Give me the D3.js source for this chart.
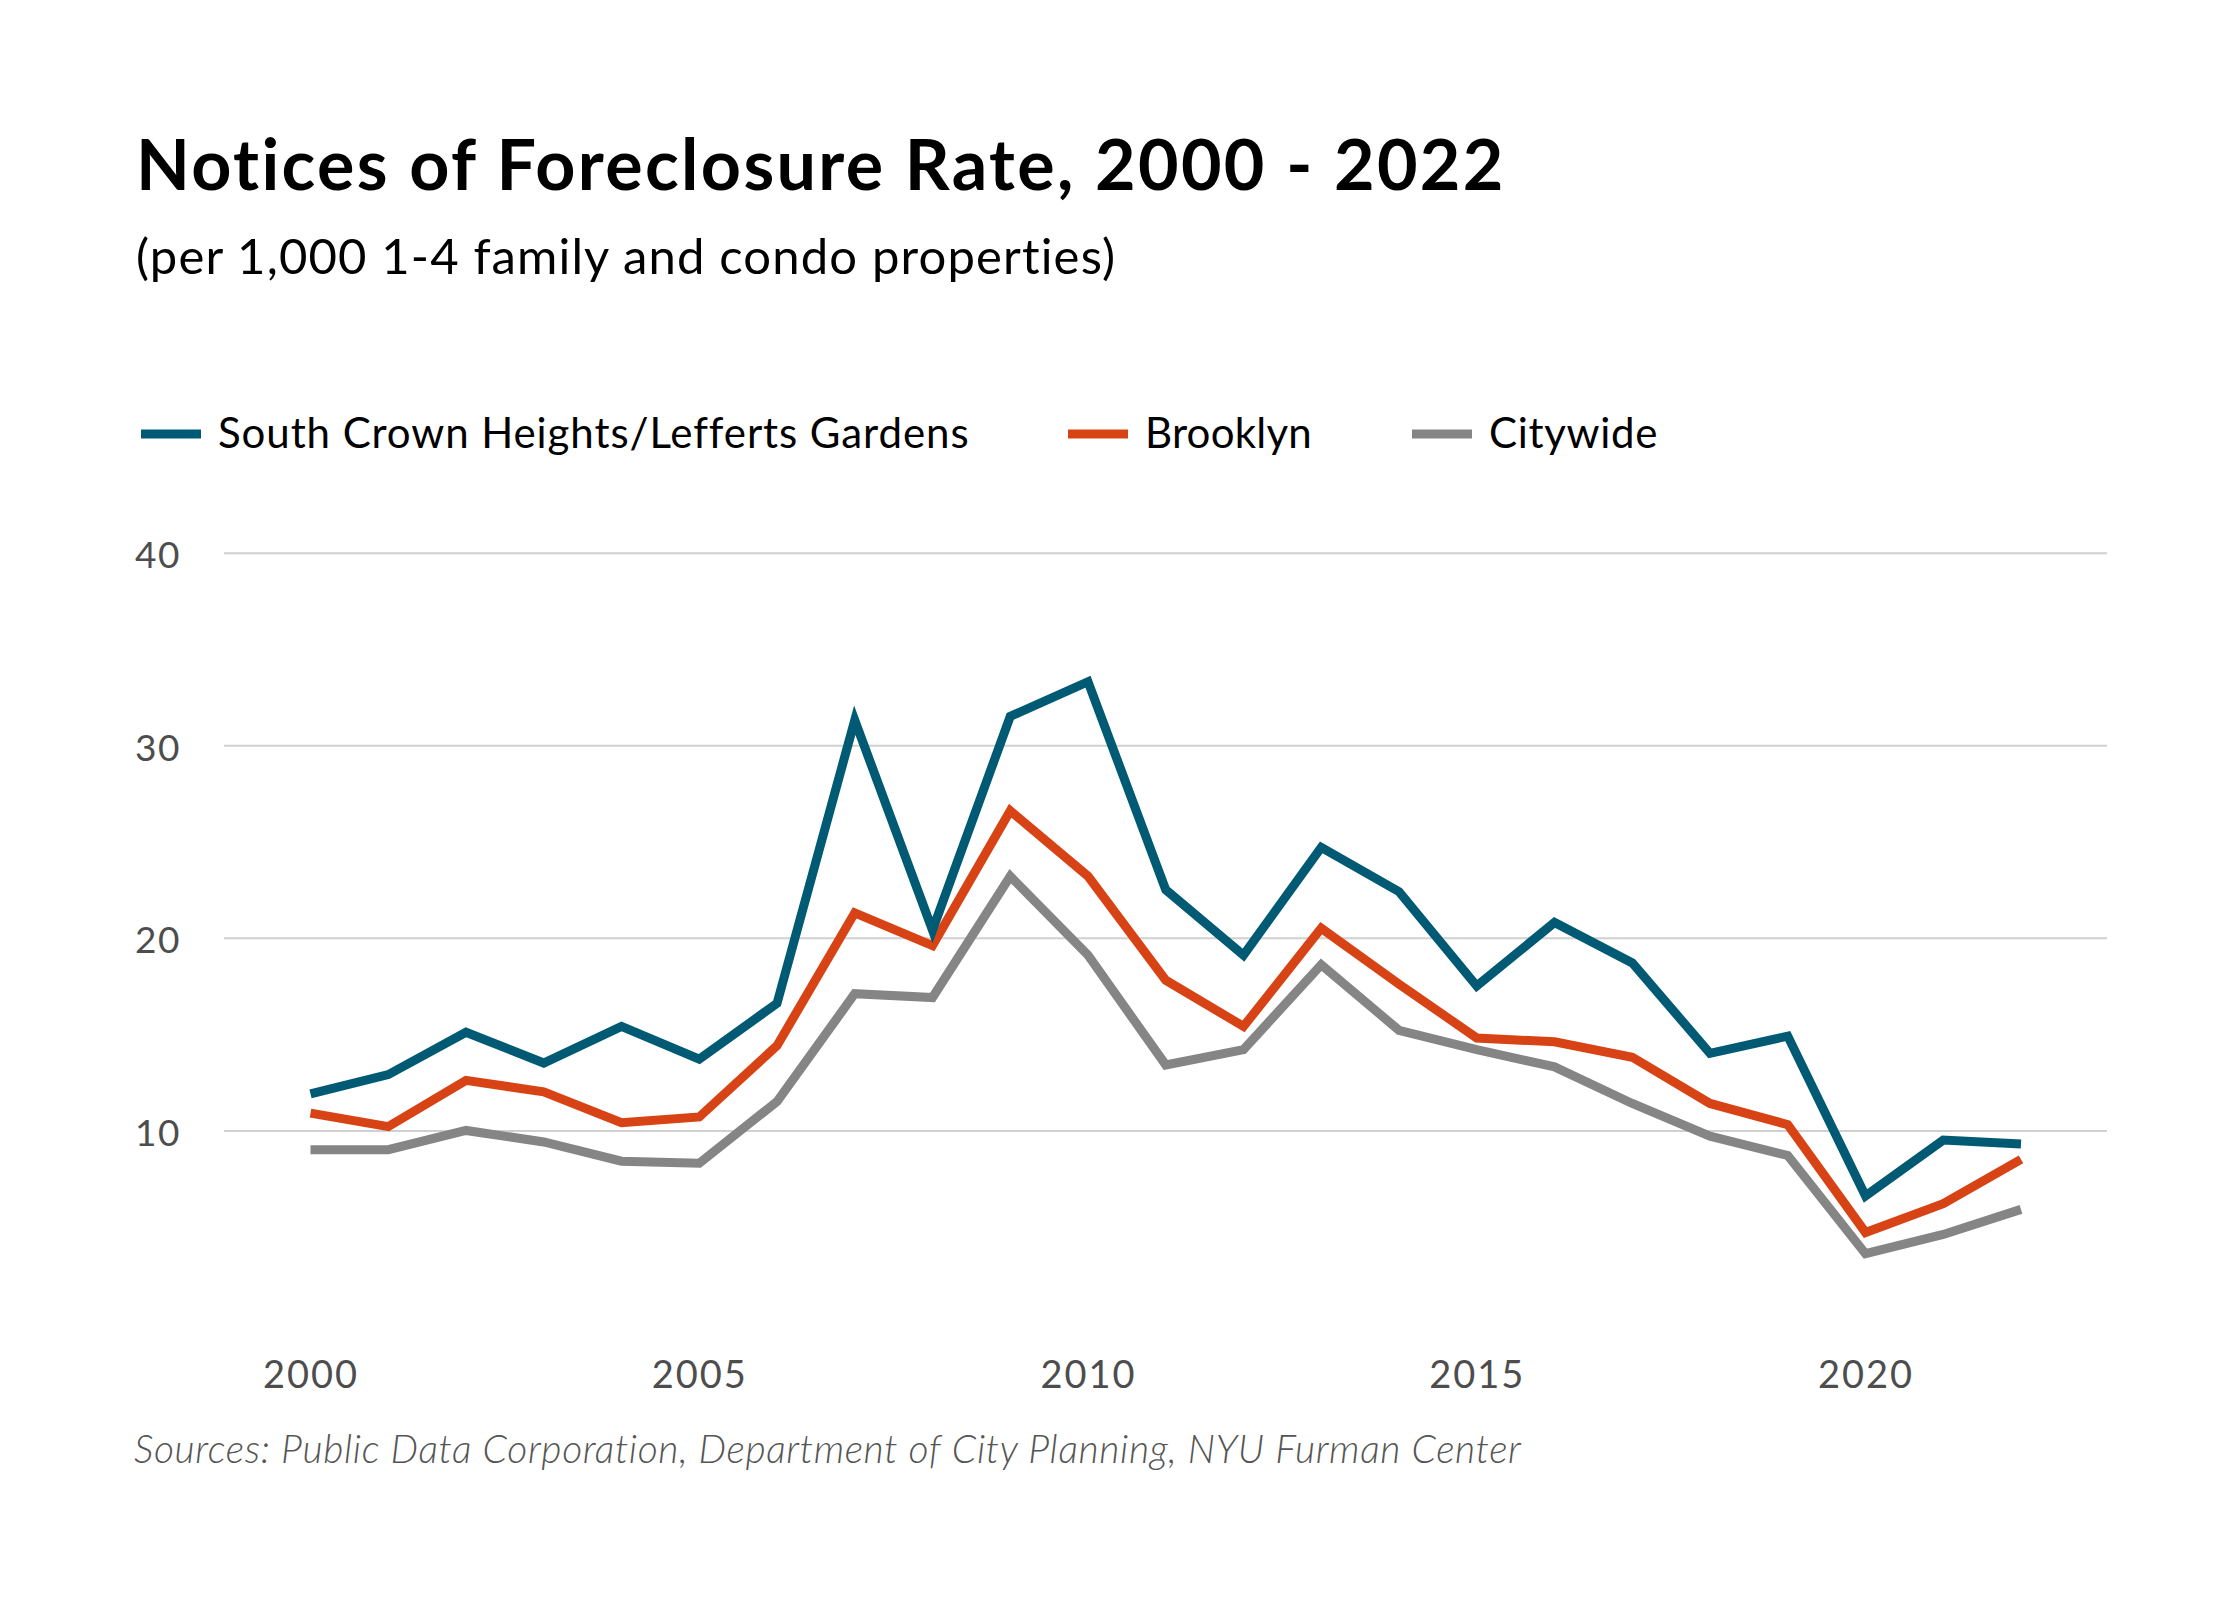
<!DOCTYPE html>
<html>
<head>
<meta charset="utf-8">
<script src="https://cdn.jsdelivr.net/npm/d3@7"></script>
<style>
	body { margin: 0; background: #fff; }
	svg { display: block; }
</style>
</head>
<body>
<script>
const years = [2000, 2001, 2002, 2003, 2004, 2005, 2006, 2007, 2008, 2009, 2010, 2011,
	2012, 2013, 2014, 2015, 2016, 2017, 2018, 2019, 2020, 2021, 2022];

const southCrownHeights = [11.9, 12.9, 15.1, 13.5, 15.4, 13.7, 16.6, 31.3, 20.4, 31.5, 33.3, 22.5,
	19.1, 24.7, 22.4, 17.5, 20.8, 18.7, 14.0, 14.9, 6.6, 9.5, 9.3];
const brooklyn = [10.9, 10.2, 12.6, 12.0, 10.4, 10.7, 14.4, 21.3, 19.6, 26.6, 23.2, 17.8,
	15.4, 20.5, 17.6, 14.8, 14.6, 13.8, 11.4, 10.3, 4.7, 6.2, 8.5];
const citywide = [9.0, 9.0, 10.0, 9.4, 8.4, 8.3, 11.5, 17.1, 16.9, 23.2, 19.1, 13.4,
	14.2, 18.6, 15.2, 14.2, 13.3, 11.4, 9.7, 8.7, 3.6, 4.6, 5.9];

const seriesNames = ["South Crown Heights/Lefferts Gardens", "Brooklyn", "Citywide"];
const seriesColors = ["#005a73", "#d84315", "#858585"];
const yTicks = [10, 20, 30, 40];
const xTicks = [2000, 2005, 2010, 2015, 2020];

const title = "Notices of Foreclosure Rate, 2000 - 2022";
const subtitle = "(per 1,000 1-4 family and condo properties)";
const source = "Sources: Public Data Corporation, Department of City Planning, NYU Furman Center";

const width = 2240;
const height = 1600;

const svg = d3.select("body")
	.append("svg")
	.attr("width", width)
	.attr("height", height);

// spread letters so a line of text takes the wanted width
const fitWidth = (sel, target) => {
	const n = sel.text().length;
	const w = sel.node().getComputedTextLength();
	sel.style("letter-spacing", `${(target - w) / n}px`);
};

const titleText = svg.append("text")
	.attr("x", 136)
	.attr("y", 190)
	.style("font-family", "Lato")
	.style("font-weight", 700)
	.style("font-size", "70px")
	.style("fill", "#000")
	.text(title);
fitWidth(titleText, 1371);

const subtitleText = svg.append("text")
	.attr("x", 136)
	.attr("y", 274)
	.style("font-family", "Lato")
	.style("font-size", "49px")
	.style("fill", "#000")
	.text(subtitle);
fitWidth(subtitleText, 981);

// legend
const legendWidths = [750, 167, 169];
const legend = svg.append("g");
let legendX = 141;
seriesNames.forEach((name, i) => {
	legend.append("line")
		.attr("x1", legendX)
		.attr("x2", legendX + 60)
		.attr("y1", 434)
		.attr("y2", 434)
		.attr("stroke", seriesColors[i])
		.attr("stroke-width", 9);
	const label = legend.append("text")
		.attr("x", legendX + 77)
		.attr("y", 448)
		.style("font-family", "Lato")
		.style("font-size", "42px")
		.style("fill", "#000")
		.text(name);
	fitWidth(label, legendWidths[i]);
	legendX += 77 + legendWidths[i] + 100;
});

const x = d3.scaleLinear()
	.domain([2000, 2022])
	.range([310.5, 2021]);

const y = d3.scaleLinear()
	.domain([0, 40])
	.range([1323, 552.7]);

const gridLeft = 224;
const gridRight = 2107;

const yAxis = svg.append("g")
	.attr("transform", `translate(${gridLeft},0)`)
	.call(d3.axisLeft(y)
		.tickValues(yTicks)
		.tickSize(-(gridRight - gridLeft))
		.tickPadding(43));
yAxis.select(".domain").remove();
yAxis.selectAll(".tick line")
	.attr("stroke", "#d0d0d0")
	.attr("stroke-width", 2);
yAxis.selectAll(".tick text")
	.attr("dy", 0)
	.attr("y", 15)
	.style("font-family", "Lato")
	.style("font-size", "37px")
	.style("letter-spacing", "1.5px")
	.style("fill", "#4d4d4d");

const xAxis = svg.append("g")
	.attr("transform", "translate(0,1388)")
	.call(d3.axisBottom(x)
		.tickValues(xTicks)
		.tickFormat(d3.format("d"))
		.tickSize(0)
		.tickPadding(0));
xAxis.select(".domain").remove();
xAxis.selectAll(".tick text")
	.attr("dy", 0)
	.attr("y", 0)
	.style("font-family", "Lato")
	.style("font-size", "38px")
	.style("letter-spacing", "2px")
	.style("fill", "#4d4d4d");

const line = d3.line()
	.x((d, i) => x(years[i]))
	.y((d) => y(d));

[southCrownHeights, brooklyn, citywide].slice().reverse().forEach((values, j) => {
	const i = 2 - j;
	svg.append("path")
		.datum(values)
		.attr("d", line)
		.attr("fill", "none")
		.attr("stroke", seriesColors[i])
		.attr("stroke-width", 9)
		.attr("stroke-linejoin", "miter");
});

const sourceText = svg.append("text")
	.attr("x", 134)
	.attr("y", 1463)
	.style("font-family", "Lato")
	.style("font-style", "italic")
	.style("font-weight", 300)
	.style("font-size", "39px")
	.style("fill", "#555")
	.text(source);
fitWidth(sourceText, 1387);
</script>
</body>
</html>
